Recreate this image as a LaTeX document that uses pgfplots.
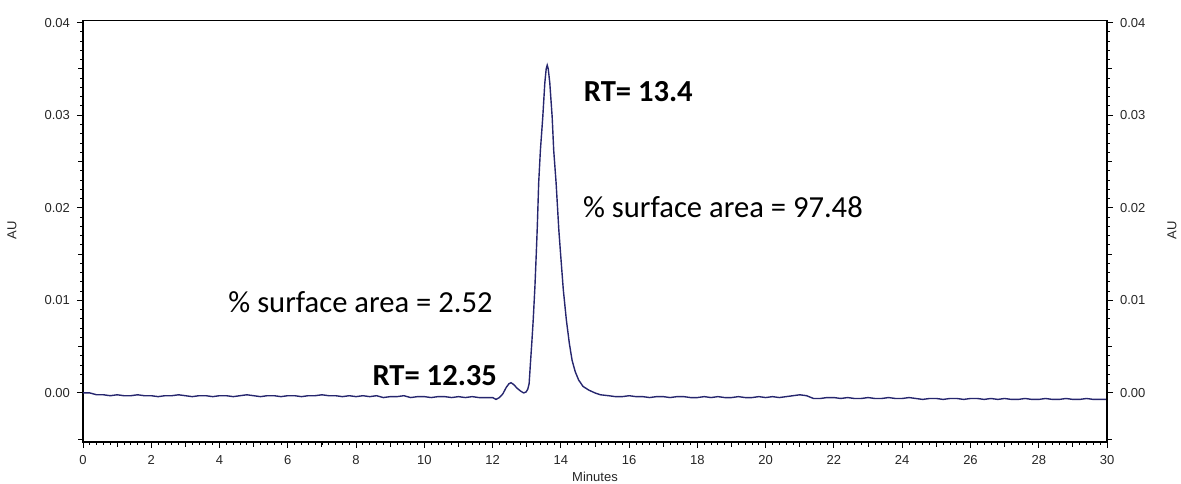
\documentclass[border=0pt]{standalone}
\usepackage{fontspec}
\setmainfont{Liberation Sans}
\newfontfamily\annfont{Carlito}
\usepackage{pgfplots}
\pgfplotsset{compat=1.18}
\definecolor{trace}{RGB}{38,38,110}
\pgfplotstableread{
x y
0.0 0.0000
0.2 0.0000
0.4 -0.0002
0.6 -0.0002
0.8 -0.0003
1.0 -0.0002
1.2 -0.0003
1.4 -0.0003
1.6 -0.0002
1.8 -0.0003
2.0 -0.0003
2.2 -0.0004
2.4 -0.0003
2.6 -0.0003
2.8 -0.0002
3.0 -0.0003
3.2 -0.0004
3.4 -0.0003
3.6 -0.0003
3.8 -0.0004
4.0 -0.0003
4.2 -0.0003
4.4 -0.0004
4.6 -0.0003
4.8 -0.0002
5.0 -0.0003
5.2 -0.0004
5.4 -0.0003
5.6 -0.0003
5.8 -0.0004
6.0 -0.0003
6.2 -0.0003
6.4 -0.0004
6.6 -0.0003
6.8 -0.0003
7.0 -0.0002
7.2 -0.0003
7.4 -0.0003
7.6 -0.0004
7.8 -0.0003
8.0 -0.0004
8.2 -0.0003
8.4 -0.0004
8.6 -0.0003
8.8 -0.0005
9.0 -0.0004
9.2 -0.0004
9.4 -0.0003
9.6 -0.0005
9.8 -0.0004
10.0 -0.0004
10.2 -0.0005
10.4 -0.0004
10.6 -0.0004
10.8 -0.0005
11.0 -0.0004
11.2 -0.0005
11.4 -0.0004
11.6 -0.0005
11.8 -0.0005
12.0 -0.0005
12.1 -0.0007
12.2 -0.0005
12.3 -0.0001
12.4 0.0006
12.48 0.0010
12.54 0.0011
12.62 0.0009
12.72 0.0005
12.82 0.0002
12.91 0.0000
12.98 0.0001
13.03 0.0004
13.07 0.0010
13.11 0.0033
13.15 0.0055
13.19 0.0079
13.24 0.0115
13.28 0.0151
13.31 0.0180
13.35 0.0227
13.40 0.0262
13.47 0.0298
13.53 0.0335
13.57 0.0350
13.60 0.0354
13.63 0.0350
13.675 0.0335
13.745 0.0298
13.79 0.0262
13.86 0.0227
13.94 0.0176
13.99 0.0151
14.07 0.0112
14.16 0.0079
14.25 0.0053
14.33 0.0035
14.42 0.0023
14.52 0.0014
14.65 0.0007
14.82 0.0003
15.0 0.0000
15.16 -0.0002
15.4 -0.0003
15.6 -0.0004
15.8 -0.0004
16.0 -0.0003
16.2 -0.0004
16.4 -0.0004
16.6 -0.0005
16.8 -0.0004
17.0 -0.0004
17.2 -0.0005
17.4 -0.0004
17.6 -0.0004
17.8 -0.0005
18.0 -0.0005
18.2 -0.0004
18.4 -0.0005
18.6 -0.0004
18.8 -0.0005
19.0 -0.0005
19.2 -0.0004
19.4 -0.0005
19.6 -0.0005
19.8 -0.0004
20.0 -0.0005
20.2 -0.0004
20.4 -0.0005
20.6 -0.0004
20.8 -0.0003
21.0 -0.0002
21.2 -0.0003
21.4 -0.0006
21.6 -0.0006
21.8 -0.0005
22.0 -0.0005
22.2 -0.0006
22.4 -0.0005
22.6 -0.0006
22.8 -0.0006
23.0 -0.0005
23.2 -0.0006
23.4 -0.0006
23.6 -0.0005
23.8 -0.0006
24.0 -0.0006
24.2 -0.0005
24.4 -0.0006
24.6 -0.0007
24.8 -0.0006
25.0 -0.0006
25.2 -0.0007
25.4 -0.0006
25.6 -0.0006
25.8 -0.0007
26.0 -0.0006
26.2 -0.0006
26.4 -0.0007
26.6 -0.0006
26.8 -0.0007
27.0 -0.0006
27.2 -0.0007
27.4 -0.0007
27.6 -0.0006
27.8 -0.0007
28.0 -0.0007
28.2 -0.0006
28.4 -0.0007
28.6 -0.0007
28.8 -0.0006
29.0 -0.0007
29.2 -0.0007
29.4 -0.0006
29.6 -0.0007
29.8 -0.0007
30.0 -0.0007
}\chrom
\pgfplotsset{
  common/.style={
    scale only axis, width=512pt, height=210.65pt,
    xmin=0, xmax=30, ymin=-0.0053, ymax=0.0402,
    tick align=outside,
    major tick length=3pt, minor tick length=1.4pt,
    every tick/.style={black, line width=0.5pt},
    every minor tick/.style={black, line width=0.4pt},
    axis line style={black, line width=0.55pt},
    ytick={0,0.01,0.02,0.03,0.04},
    minor y tick num=9,
    extra y ticks={-0.005,0.005,0.015,0.025,0.035},
    extra y tick labels={},
    extra tick style={major tick length=2.4pt},
    scaled y ticks=false,
    ticklabel style={font=\fontsize{6.5}{7}\selectfont, text=black!85},
    /pgf/number format/assume math mode=true,
    yticklabel style={/pgf/number format/fixed, /pgf/number format/fixed zerofill, /pgf/number format/precision=2},
  }
}
\begin{document}
\begin{tikzpicture}
\begin{axis}[common,
    xtick={0,2,...,30},
    minor x tick num=9,
    extra x ticks={1,3,...,29},
    extra x tick labels={},
    xtick pos=left, ytick pos=left,
    xticklabel style={/pgf/number format/fixed, /pgf/number format/precision=0},
    clip=true]
\addplot[color=trace, line width=0.7pt] table[x=x,y=y] {\chrom};
\node[anchor=west, inner sep=0pt, font=\annfont\bfseries\fontsize{15.3}{17}\selectfont] at (axis cs:14.66,0.0325) {RT= 13.4};
\node[anchor=west, inner sep=0pt, font=\annfont\fontsize{15.3}{17}\selectfont] at (axis cs:14.64,0.0201) {\% surface area = 97.48};
\node[anchor=west, inner sep=0pt, font=\annfont\fontsize{15.3}{17}\selectfont] at (axis cs:4.25,0.0098) {\% surface area = 2.52};
\node[anchor=west, inner sep=0pt, font=\annfont\bfseries\fontsize{15.3}{17}\selectfont] at (axis cs:8.47,0.0019) {RT= 12.35};
\end{axis}
\begin{axis}[common,
    hide x axis,
    axis y line*=right,
    axis line style={-},
    ]
\end{axis}
\node[rotate=90, font=\fontsize{6.5}{7}\selectfont, text=black!85] at (-35.5pt,106pt) {AU};
\node[rotate=90, font=\fontsize{6.5}{7}\selectfont, text=black!85] at (544.5pt,106pt) {AU};
\node[font=\fontsize{6.5}{7}\selectfont, text=black!85] at (256pt,-17.2pt) {Minutes};
\pgfresetboundingbox
\path (-41.5pt,-20.5pt) rectangle (549pt,221pt);
\end{tikzpicture}
\end{document}
